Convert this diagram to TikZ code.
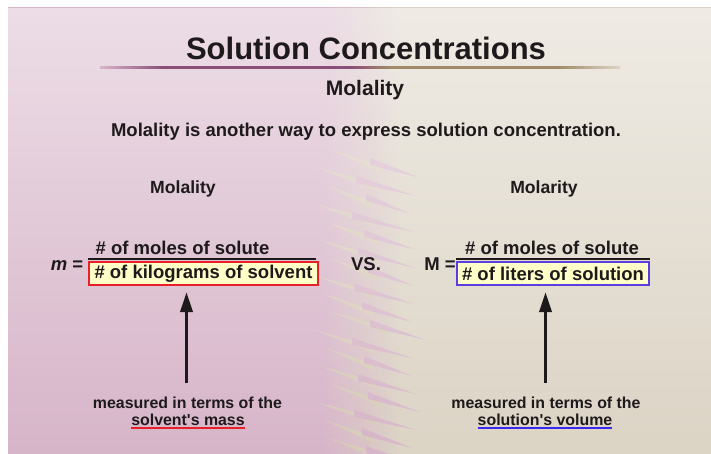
\documentclass[tikz,border=0pt]{standalone}
\usepackage{fontspec}
\setmainfont{Liberation Sans}
\usetikzlibrary{arrows.meta,fadings}
\definecolor{pinkbg}{HTML}{D7B5C9}
\definecolor{midbg}{HTML}{D9C4C5}
\definecolor{beigebg}{HTML}{DCD4C5}
\definecolor{streakbeige}{HTML}{D8D0B6}
\definecolor{streakpink}{HTML}{D6AFCB}
\definecolor{textc}{HTML}{1E1A1C}
\definecolor{boxfill}{HTML}{FFFFC8}
\definecolor{redc}{HTML}{E82028}
\definecolor{bluec}{HTML}{5A3FE0}
\definecolor{ulblue}{HTML}{3A28F0}
\definecolor{rulepurple}{HTML}{8A4E78}
\definecolor{rulebrown}{HTML}{A08C66}
\pgfdeclarehorizontalshading{bgshade}{100bp}{color(0bp)=(pinkbg); color(25bp)=(pinkbg); color(47.5bp)=(pinkbg); color(50.5bp)=(midbg); color(53bp)=(beigebg); color(75bp)=(beigebg); color(100bp)=(beigebg)}
\pgfdeclarehorizontalshading{ruleshade}{100bp}{color(0bp)=(pinkbg); color(25bp)=(pinkbg); color(31bp)=(rulepurple); color(49bp)=(rulepurple); color(53bp)=(rulebrown); color(69bp)=(rulebrown); color(75bp)=(beigebg); color(100bp)=(beigebg)}
\tikzfading[name=topfade, top color=transparent!45, middle color=transparent!100, bottom color=transparent!100]
\tikzset{
  txt/.style={inner sep=0pt, text=textc, anchor=base},
  bodyfont/.style={font=\bfseries\fontsize{18.5}{20}\selectfont},
  smallfont/.style={font=\bfseries\fontsize{15.9}{18}\selectfont},
  denbox/.style={inner sep=0pt, minimum height=23pt, fill=boxfill, line width=1.4pt, text=textc, font=\bfseries\fontsize{18.5}{20}\selectfont},
  bigarrow/.style={line width=3.3pt, textc, -{Triangle[length=20pt,width=12pt]}},
  fracbar/.style={line width=1.6pt, textc},
  streakB/.style={fill=streakbeige, opacity=0.75},
  streakP/.style={fill=streakpink, opacity=0.75}
}
\begin{document}
\begin{tikzpicture}[x=1pt,y=-1pt]
\useasboundingbox (0,0) rectangle (711,454);
\fill[white] (0,0) rectangle (711,454);
\shade[shading=bgshade] (8,8) rectangle (711,454);
% streaky transition
\foreach \y/\j/\l in {150/10/50,168/-4/60,186/6/45,204/-8/62,222/4/52,240/-2/58,258/8/46,276/-6/60,294/2/50,312/10/56,330/-8/60,348/4/48,366/-2/58,384/8/52,402/-6/62,420/2/50,438/6/56}{
  \path[streakB] (322+\j,\y) -- (322+\j+\l,\y+16) -- (322+\j+\l,\y+23) -- cycle;
  \path[streakP] (360+\j,\y+8) -- (360+\j,\y+15) -- (360+\j+\l,\y+28) -- cycle;
}
\fill[white, path fading=topfade] (8,8) rectangle (711,454);
% title
\node[txt, font=\bfseries\fontsize{31}{34}\selectfont] (title) at (366,60) {Solution Concentrations};
\shade[shading=ruleshade] (100,67) rectangle (620,69);
\node[txt, font=\bfseries\fontsize{21}{24}\selectfont] (sub) at (365,96) {Molality};
\node[txt, bodyfont] (intro) at (366,137) {Molality is another way to express solution concentration.};
% column heads
\node[txt, font=\bfseries\fontsize{17.6}{20}\selectfont] (headL) at (183,194) {Molality};
\node[txt, font=\bfseries\fontsize{17.6}{20}\selectfont] (headR) at (544,194) {Molarity};
% left fraction
\node[txt, bodyfont] (mL) at (67,270) {\textit{m} =};
\node[txt, bodyfont] (numL) at (182.5,254) {\# of moles of solute};
\coordinate (barLa) at (88,259);
\coordinate (barLb) at (316,259);
\draw[fracbar] (barLa) -- (barLb);
\node[denbox, draw=redc, minimum width=229pt] (denL) at (203.5,273.5) {\# of kilograms of solvent};
% vs
\node[txt, bodyfont] (vs) at (366,270) {VS.};
% right fraction
\node[txt, bodyfont] (mR) at (440,270) {M =};
\node[txt, bodyfont] (numR) at (552,254) {\# of moles of solute};
\coordinate (barRa) at (456,259);
\coordinate (barRb) at (650,259);
\draw[fracbar] (barRa) -- (barRb);
\node[denbox, draw=bluec, minimum width=192pt] (denR) at (553,273.5) {\# of liters of solution};
% arrows
\coordinate (tailL) at (186.5,383);
\coordinate (tipL) at (186.5,292);
\draw[bigarrow] (tailL) -- (tipL);
\coordinate (tailR) at (545.5,383);
\coordinate (tipR) at (545.5,292);
\draw[bigarrow] (tailR) -- (tipR);
% bottom notes
\node[txt, smallfont] (noteL1) at (187.5,408) {measured in terms of the};
\node[txt, smallfont] (noteL2) at (188,425) {solvent\textquotesingle s mass};
\draw[redc, line width=1.8pt] ([yshift=-3pt]noteL2.base west) -- ([yshift=-3pt]noteL2.base east);
\node[txt, smallfont] (noteR1) at (546,408) {measured in terms of the};
\node[txt, smallfont] (noteR2) at (545,425) {solution\textquotesingle s volume};
\draw[ulblue, line width=1.8pt] ([yshift=-3pt]noteR2.base west) -- ([yshift=-3pt]noteR2.base east);
\end{tikzpicture}
\end{document}
